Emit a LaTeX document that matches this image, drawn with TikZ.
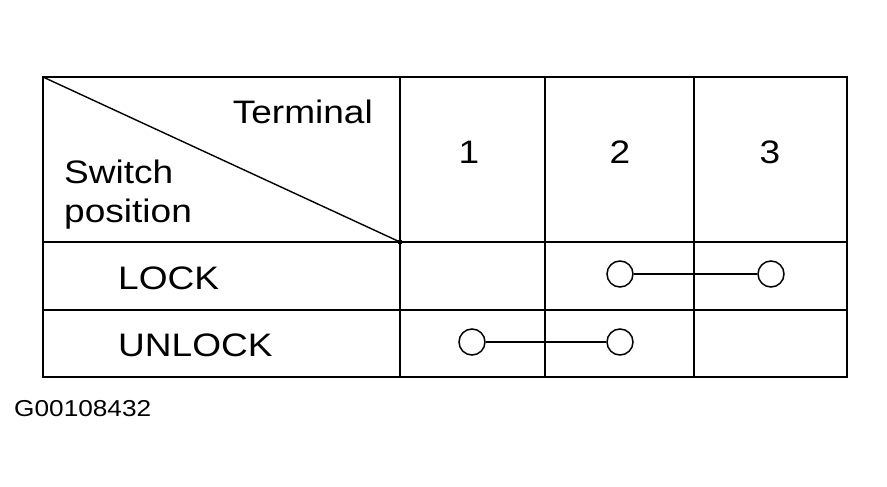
\documentclass[tikz,border=0pt]{standalone}
\usepackage{fontspec}
\setmainfont{Liberation Sans}[FakeStretch=1.14]
\begin{document}
\begin{tikzpicture}[x=1pt,y=-1pt,
  ln/.style={line width=1.9pt},
  t/.style={inner sep=0pt,font=\fontsize{32.5}{34}\selectfont},
  pin/.style={circle,draw,line width=1.5pt,minimum size=26pt,inner sep=0pt,fill=white}]
\useasboundingbox (0,0) rectangle (887,487);
\draw[ln] (43,77) rectangle (847,377);
\draw[ln] (400,77) -- (400,377) (545,77) -- (545,377) (694,77) -- (694,377);
\draw[ln] (43,242) -- (847,242) (43,310) -- (847,310);
\coordinate (tl) at (43,77); \coordinate (br) at (400,242);
\draw[line width=1.4pt] (tl) -- (br);
\fill (br) circle (2.5pt);
\node[t,anchor=base east] (term) at (373,124) {Terminal};
\node[t,anchor=base west] (sw) at (64,183) {Switch};
\node[t,anchor=base west] (pos) at (64,222) {position};
\node[t,anchor=base] (c1) at (469,163) {1};
\node[t,anchor=base] (c2) at (620,163) {2};
\node[t,anchor=base] (c3) at (770,163) {3};
\node[t,anchor=base west] (lock) at (118,289) {LOCK};
\node[t,anchor=base west] (unlock) at (118,356) {UNLOCK};
\node[pin] (a) at (620,274) {};
\node[pin] (b) at (771,274) {};
\node[pin] (c) at (472,342) {};
\node[pin] (d) at (620,342) {};
\draw[line width=1.4pt] (a) -- (b);
\draw[line width=1.4pt] (c) -- (d);
\node[inner sep=0pt,anchor=base west,font=\fontsize{23}{24}\selectfont] (id) at (14,416) {G00108432};
\end{tikzpicture}
\end{document}
